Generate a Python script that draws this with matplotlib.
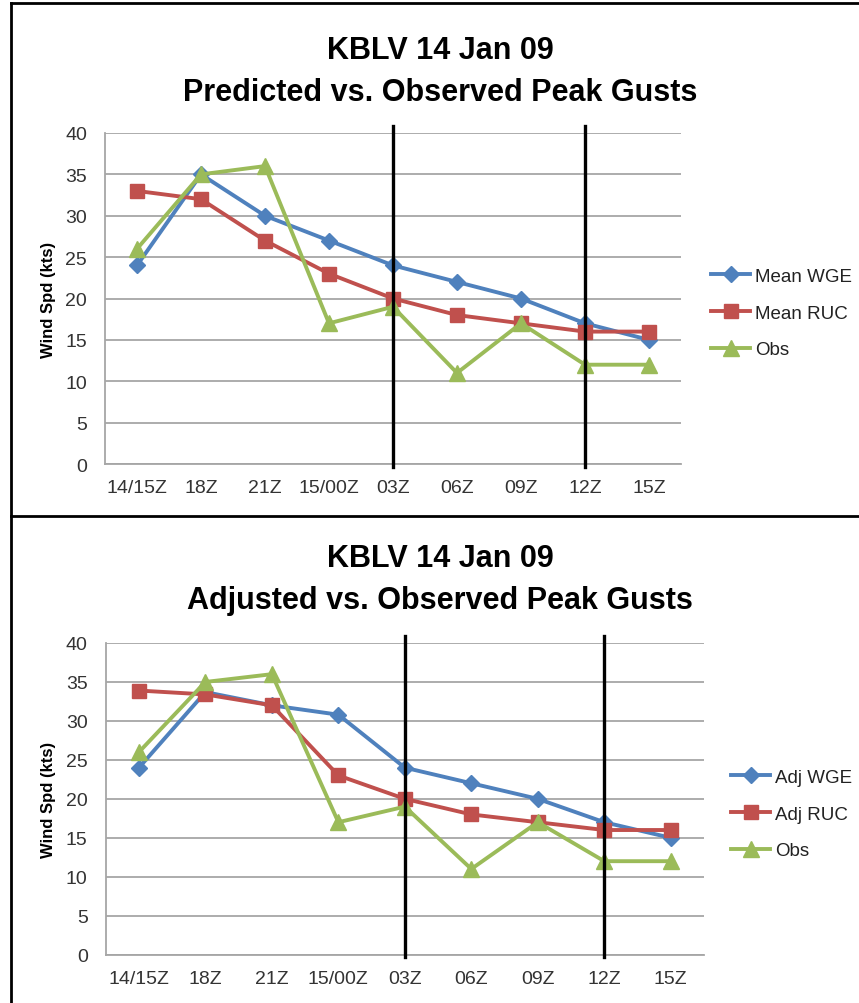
import matplotlib
matplotlib.use("Agg")
import matplotlib.pyplot as plt
from matplotlib.lines import Line2D

# ---------------- data ----------------
categories = ["14/15Z", "18Z", "21Z", "15/00Z", "03Z", "06Z", "09Z", "12Z", "15Z"]

top_title = "KBLV 14 Jan 09\nPredicted vs. Observed Peak Gusts"
top_wge = [24, 35, 30, 27, 24, 22, 20, 17, 15]
top_ruc = [33, 32, 27, 23, 20, 18, 17, 16, 16]
top_obs = [26, 35, 36, 17, 19, 11, 17, 12, 12]
top_labels = ["Mean WGE", "Mean RUC", "Obs"]

bot_title = "KBLV 14 Jan 09\nAdjusted vs. Observed Peak Gusts"
bot_wge = [24, 33.7, 32, 30.8, 24, 22, 20, 17, 15]
bot_ruc = [33.9, 33.4, 32, 23, 20, 18, 17, 16, 16]
bot_obs = [26, 35, 36, 17, 19, 11, 17, 12, 12]
bot_labels = ["Adj WGE", "Adj RUC", "Obs"]

marker_lines = ["03Z", "12Z"]
y_ticks = [0, 5, 10, 15, 20, 25, 30, 35, 40]
y_label = "Wind Spd (kts)"

# ---------------- style ----------------
plt.rcParams["font.family"] = ["Liberation Sans", "DejaVu Sans"]
BLUE, RED, GREEN = "#4F81BD", "#C0504D", "#9BBB59"
GRID = "#A6A6A6"
TXT = "#333333"

W, H = 859, 1004
fig = plt.figure(figsize=(W / 100, H / 100), dpi=100)


def fx(px):
    return px / W


def fy(py):
    return 1 - py / H


def panel(ax_box, title, title_y, wge, ruc, obs, labels, leg_x, leg_y, ylab_y):
    l, t, r, b = ax_box
    ax = fig.add_axes([fx(l), fy(b), fx(r) - fx(l), fy(t) - fy(b)])
    x = list(range(len(categories)))
    ax.plot(x, wge, color=BLUE, lw=2.8, marker="D", ms=8.5, label=labels[0])
    ax.plot(x, ruc, color=RED, lw=2.8, marker="s", ms=10.5, label=labels[1])
    ax.plot(x, obs, color=GREEN, lw=2.8, marker="^", ms=11, label=labels[2])
    for cat in marker_lines:
        i = categories.index(cat)
        ax.plot([i, i], [-0.35, 40.9], color="black", lw=2.4, clip_on=False, zorder=5)
    ax.set_xlim(-0.5, len(categories) - 0.5)
    ax.set_ylim(0, 40)
    ax.set_yticks(y_ticks)
    ax.set_xticks(x)
    ax.set_xticklabels(categories)
    ax.yaxis.grid(True, color=GRID, lw=1.3)
    ax.set_axisbelow(True)
    for s in ["top", "right"]:
        ax.spines[s].set_visible(False)
    for s in ["left", "bottom"]:
        ax.spines[s].set_color(GRID)
        ax.spines[s].set_linewidth(1.3)
    ax.tick_params(axis="both", length=0, labelsize=14, colors=TXT)
    ax.tick_params(axis="y", pad=13)
    ax.tick_params(axis="x", pad=11)
    fig.text(fx(440), fy(title_y), title, ha="center", va="center",
             fontsize=22, fontweight="bold", linespacing=1.5, color="black")
    fig.text(fx(48), fy(ylab_y), y_label, rotation=90, ha="center", va="center",
             fontsize=12, fontweight="bold", color="black")
    leg = ax.legend(loc="center left", bbox_to_anchor=(fx(leg_x), fy(leg_y)),
                    bbox_transform=fig.transFigure,
                    frameon=False, fontsize=13.5, handlelength=2.1,
                    handletextpad=0.25, labelspacing=1.05, borderpad=0,
                    borderaxespad=0)
    for txt in leg.get_texts():
        txt.set_color("#222222")
    return ax


panel((105, 134, 681, 465), top_title, 72, top_wge, top_ruc, top_obs,
      top_labels, 711, 314, 300)
panel((105.7, 644, 704, 955.7), bot_title, 580, bot_wge, bot_ruc, bot_obs,
      bot_labels, 731, 815, 800)

# panel borders
kw = dict(color="black", lw=2.0, transform=fig.transFigure)
fig.add_artist(Line2D([fx(10.5), fx(10.5)], [fy(4), fy(1004)], **kw))
fig.add_artist(Line2D([fx(10.5), fx(859)], [fy(4), fy(4)], **kw))
fig.add_artist(Line2D([fx(10.5), fx(859)], [fy(516.5), fy(516.5)], **kw))

fig.savefig("out.png", dpi=100)
